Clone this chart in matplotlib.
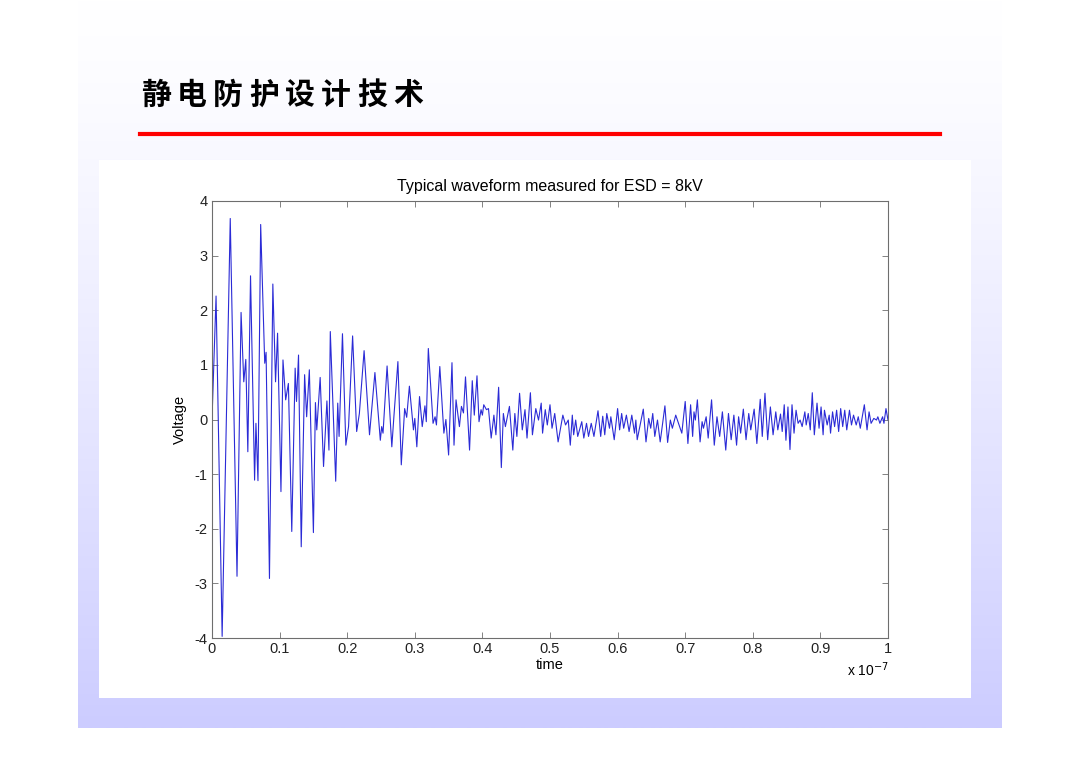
import numpy as np
import matplotlib
matplotlib.use('Agg')
import matplotlib.pyplot as plt
from matplotlib.patches import Rectangle
from matplotlib.lines import Line2D

# waveform, time in units of 1e-7 s, voltage in V
time_burst = [0.000, 0.006, 0.015, 0.027, 0.037, 0.043, 0.047, 0.050, 0.053, 0.057,
              0.063, 0.065, 0.068, 0.072, 0.078, 0.080, 0.085, 0.090, 0.094, 0.097,
              0.102, 0.105, 0.109, 0.113, 0.118, 0.123, 0.125, 0.128, 0.132, 0.137,
              0.140, 0.144, 0.150, 0.153, 0.155, 0.160, 0.165, 0.170, 0.173, 0.175,
              0.183, 0.186, 0.188, 0.193, 0.198, 0.202, 0.208, 0.214]
volt_burst = [0.00, 2.26, -3.97, 3.68, -2.87, 1.96, 0.69, 1.10, -0.59, 2.63,
              -1.11, -0.07, -1.12, 3.57, 1.03, 1.23, -2.91, 2.48, 0.69, 1.58,
              -1.32, 1.09, 0.36, 0.66, -2.05, 0.94, 0.33, 1.18, -2.33, 0.82,
              0.05, 0.91, -2.07, 0.31, -0.19, 0.77, -0.86, 0.34, -0.56, 1.61,
              -1.13, 0.30, -0.31, 1.57, -0.47, -0.13, 1.53, -0.22]

time_decay = [0.218, 0.225, 0.233, 0.241, 0.249, 0.251, 0.253, 0.259, 0.266, 0.269,
              0.275, 0.280, 0.285, 0.288, 0.292, 0.298, 0.300, 0.303, 0.307, 0.311,
              0.315, 0.317, 0.320, 0.327, 0.330, 0.332, 0.337, 0.343, 0.346, 0.350,
              0.355, 0.358, 0.361, 0.366, 0.369, 0.372, 0.375, 0.381, 0.385, 0.388,
              0.392, 0.395, 0.398, 0.400, 0.402, 0.406, 0.409, 0.413, 0.417, 0.420,
              0.424, 0.428, 0.431, 0.434, 0.440, 0.445, 0.448, 0.451, 0.455, 0.459,
              0.463, 0.466, 0.471, 0.474, 0.479, 0.483, 0.487, 0.489, 0.493, 0.496,
              0.500, 0.503, 0.507, 0.512, 0.519, 0.523, 0.527, 0.530]
volt_decay = [0.11, 1.26, -0.28, 0.86, -0.38, -0.13, -0.25, 0.98, -0.50, 0.04,
              1.06, -0.83, 0.20, 0.04, 0.61, -0.19, 0.02, -0.50, 0.42, -0.13,
              0.25, -0.04, 1.30, -0.07, 0.05, -0.10, 0.97, -0.25, 0.00, -0.65,
              1.04, -0.47, 0.36, -0.13, 0.24, 0.12, 0.78, -0.56, 0.71, 0.08,
              0.80, -0.04, 0.18, 0.08, 0.27, 0.18, 0.20, -0.34, 0.08, -0.28,
              0.59, -0.88, 0.11, -0.13, 0.24, -0.56, 0.11, -0.31, 0.48, -0.19,
              0.18, -0.34, 0.49, -0.28, 0.20, -0.01, 0.30, -0.25, 0.18, -0.10,
              0.27, -0.16, 0.11, -0.41, 0.08, -0.10, -0.01, -0.47]

time_tail = [0.533, 0.535, 0.538, 0.541, 0.547, 0.550, 0.554, 0.557, 0.561, 0.565,
             0.571, 0.575, 0.578, 0.581, 0.584, 0.588, 0.590, 0.595, 0.600, 0.603,
             0.606, 0.609, 0.613, 0.617, 0.621, 0.625, 0.627, 0.629, 0.638, 0.642,
             0.646, 0.649, 0.652, 0.655, 0.659, 0.663, 0.670, 0.674, 0.678, 0.681,
             0.686, 0.695, 0.700, 0.704, 0.708, 0.711, 0.713, 0.715, 0.718, 0.722,
             0.725, 0.727, 0.731, 0.734, 0.739, 0.743, 0.747, 0.751, 0.755, 0.760,
             0.764, 0.768, 0.772, 0.776, 0.779, 0.782, 0.786, 0.790, 0.794, 0.797,
             0.802, 0.806, 0.811, 0.814, 0.818, 0.822, 0.826, 0.830, 0.834, 0.837,
             0.841, 0.8435, 0.8465, 0.849, 0.852, 0.855, 0.858, 0.861, 0.864, 0.867,
             0.870, 0.873, 0.877, 0.879, 0.882, 0.885, 0.888, 0.891, 0.895, 0.898,
             0.901, 0.904, 0.906, 0.910, 0.913, 0.915, 0.918, 0.921, 0.924, 0.927,
             0.930, 0.933, 0.936, 0.939, 0.943, 0.946, 0.949, 0.953, 0.956, 0.959,
             0.965, 0.969, 0.972, 0.975, 0.979, 0.983, 0.985, 0.988, 0.992, 0.994,
             0.997, 1.000]
volt_tail = [0.08, -0.28, -0.01, -0.31, -0.04, -0.34, -0.07, -0.31, -0.07, -0.31,
             0.16, -0.31, 0.06, -0.28, 0.11, -0.16, 0.05, -0.37, 0.20, -0.19,
             0.11, -0.16, 0.08, -0.22, 0.08, -0.25, -0.01, -0.37, 0.19, -0.41,
             0.02, -0.16, 0.11, -0.31, -0.01, -0.41, 0.25, -0.42, -0.01, -0.16,
             0.08, -0.25, 0.33, -0.44, 0.27, -0.31, 0.14, -0.01, 0.36, -0.41,
             -0.04, -0.16, 0.05, -0.34, 0.36, -0.47, 0.05, -0.31, 0.14, -0.56,
             0.11, -0.37, 0.08, -0.47, 0.05, -0.25, 0.19, -0.37, 0.11, -0.19,
             0.19, -0.44, 0.37, -0.31, 0.48, -0.37, 0.23, -0.28, 0.14, -0.19,
             0.10, -0.22, 0.27, -0.38, 0.23, -0.55, 0.27, -0.25, 0.17, -0.07,
             -0.01, -0.13, 0.14, -0.10, 0.11, -0.19, 0.49, -0.28, 0.30, -0.16,
             0.23, -0.28, 0.17, -0.10, 0.08, -0.25, 0.14, -0.13, 0.17, -0.22,
             0.20, -0.13, 0.17, -0.19, 0.17, -0.10, 0.08, -0.10, 0.05, -0.16,
             0.27, -0.19, 0.14, -0.07, 0.02, -0.01, 0.05, -0.07, 0.05, -0.07,
             0.20, -0.01]

slide_title = '静电防护设计技术'
plot_title = 'Typical waveform measured for ESD = 8kV'
x_ticks = [0, 0.1, 0.2, 0.3, 0.4, 0.5, 0.6, 0.7, 0.8, 0.9, 1]
x_tick_labels = ['0', '0.1', '0.2', '0.3', '0.4', '0.5', '0.6', '0.7', '0.8', '0.9', '1']
y_ticks = [-4, -3, -2, -1, 0, 1, 2, 3, 4]

t = np.array(time_burst + time_decay + time_tail) * 1e-7
v = np.array(volt_burst + volt_decay + volt_tail)

plt.rcParams['font.family'] = ['Liberation Sans', 'DejaVu Sans']
plt.rcParams['axes.unicode_minus'] = False

W, H = 1080, 764
fig = plt.figure(figsize=(W / 100, H / 100), dpi=100)
fig.patch.set_facecolor('white')

# slide background: white fading into lavender towards the bottom
bg = fig.add_axes([78 / W, 1 - 728 / H, 924 / W, 728 / H], zorder=-2)
g = np.linspace(0, 1, 300)[:, None] ** 1.3
img = np.ones((300, 1, 3))
img[:, :, 0] = 1 - 0.2 * g
img[:, :, 1] = 1 - 0.2 * g
bg.imshow(img, aspect='auto', extent=[0, 1, 0, 1], interpolation='bilinear')
bg.axis('off')

# white panel behind the plot
fig.add_artist(Rectangle((99 / W, 1 - 698 / H), 872 / W, 538 / H, transform=fig.transFigure,
                         facecolor='white', edgecolor='none', zorder=-1))

# heading and red rule
for i, ch in enumerate(slide_title):
    fig.text((156 + i * 36) / W, 1 - 95 / H, ch, family=['Noto Sans CJK SC'], fontsize=21.5,
             fontweight='bold', ha='center', va='center', color='black')
fig.add_artist(Line2D([140 / W, 940 / W], [1 - 134 / H, 1 - 134 / H], color='#ff0000', lw=3,
                      transform=fig.transFigure))

ax = fig.add_axes([212 / W, 1 - 638 / H, 676 / W, 437 / H])
ax.plot(t, v, color='#2b2bd6', lw=0.8)
ax.set_xlim(0, 1e-7)
ax.set_ylim(-4, 4)
ax.set_xticks(np.array(x_ticks) * 1e-7)
ax.set_xticklabels(x_tick_labels)
ax.set_yticks(y_ticks)
ax.tick_params(direction='in', top=True, right=True, length=4, width=0.6, labelsize=10.5,
               pad=3, labelcolor='#222222', color='#6e6e6e')
for s in ax.spines.values():
    s.set_color('#6e6e6e')
    s.set_linewidth(0.8)
ax.set_title(plot_title, fontsize=11.5, pad=7)
ax.set_xlabel('time', fontsize=10.5, labelpad=1)
ax.set_ylabel('Voltage', fontsize=10.5, labelpad=6)
fig.text(868 / W, 1 - 670 / H, r'x 10$^{-7}$', fontsize=10, ha='center', va='center')

fig.savefig('out.png', dpi=100)
